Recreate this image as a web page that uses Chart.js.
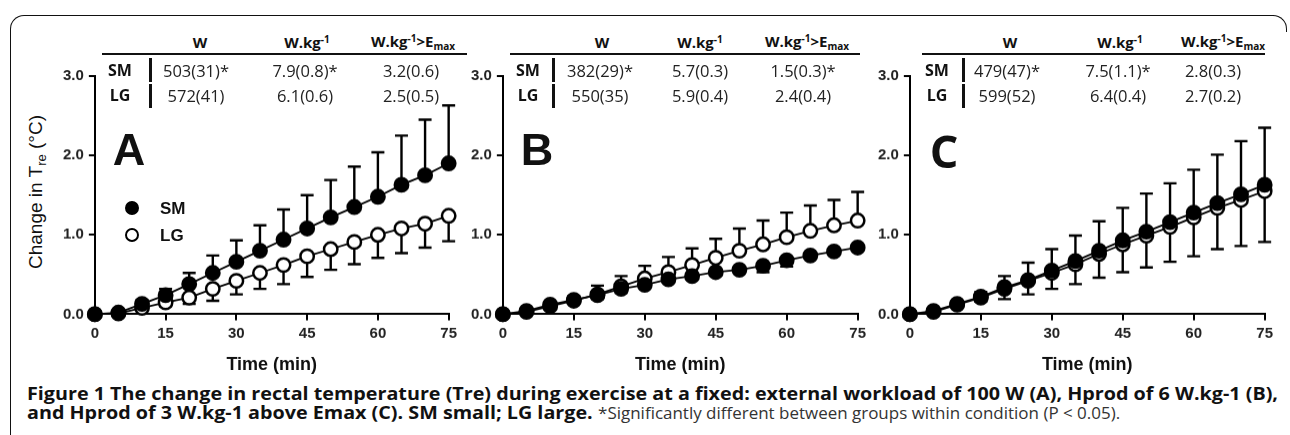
<!DOCTYPE html>
<html>
<head>
<meta charset="utf-8">
<script src="https://cdn.jsdelivr.net/npm/chart.js@4.4.1/dist/chart.umd.min.js"></script>
<style>
  body { margin: 0; width: 1290px; height: 435px; overflow: hidden; position: relative; background: #fff;
         font-family: "Liberation Sans", Arial, sans-serif; color: #111; }
  .frame { position: absolute; left: 10px; top: 15px; width: 1263px; height: 440px;
           border-left: 1.7px solid #111; border-top: 1.7px solid #111; border-top-left-radius: 14px; }
  .corner { position: absolute; left: 1273px; top: 15px; width: 13px; height: 16px;
            border-top: 1.7px solid #111; border-right: 1.7px solid #111; border-top-right-radius: 14px; }
  canvas { position: absolute; }
  .c { position: absolute; white-space: nowrap; transform: translate(-50%, -50%); }
  .hd { font-family: "Open Sans", sans-serif; font-weight: bold; font-size: 15px; }
  .hd sup { font-size: 10px; vertical-align: 5px; }
  .hd sub { font-size: 10px; vertical-align: -3px; }
  .rl { font-family: "Open Sans", sans-serif; font-weight: bold; font-size: 16px; }
  .val { font-family: "Open Sans", sans-serif; font-size: 16.5px; color: #222; }
  .line { position: absolute; background: #111; }
  .letter { font-weight: bold; font-size: 45px; }
  .leg { position: absolute; width: 10px; height: 10px; border: 2.6px solid #000; border-radius: 50%; }
  .legtx { font-weight: bold; font-size: 17px; }
  .ytitle { position: absolute; left: 37px; top: 192px; white-space: nowrap; font-size: 19px;
            transform: translate(-50%, -50%) rotate(-90deg); }
  .ytitle sub { font-size: 13px; }
  .cap { position: absolute; left: 27px; white-space: nowrap; font-family: "Open Sans", sans-serif;
         font-size: 17px; line-height: 19px; transform-origin: 0 50%; }
  .cap b { font-weight: bold; }
  .cap span.n { display: inline-block; color: #333; transform: scaleX(0.86); transform-origin: 0 50%; }
</style>
</head>
<body>
<div class="frame"></div>
<div class="corner"></div>

<canvas id="chartA"></canvas>
<canvas id="chartB"></canvas>
<canvas id="chartC"></canvas>

<div class="ytitle">Change in T<sub>re</sub> (°C)</div>

<div id="cap1" class="cap" style="top:384px"><b>Figure 1 The change in rectal temperature (Tre) during exercise at a fixed: external workload of 100 W (A), Hprod of 6 W.kg-1 (B),</b></div>
<div id="cap2" class="cap" style="top:403px"><b>and Hprod of 3 W.kg-1 above Emax (C). SM small; LG large.</b> <span class="n">*Significantly different between groups within condition (P &lt; 0.05).</span></div>

<script>
// time points (min)
const times = [0, 5, 10, 15, 20, 25, 30, 35, 40, 45, 50, 55, 60, 65, 70, 75];

// panel A: 100 W
const smA    = [0, 0.02, 0.13, 0.24, 0.38, 0.52, 0.66, 0.80, 0.94, 1.08, 1.22, 1.35, 1.48, 1.63, 1.75, 1.90];
const smA_sd = [0, 0.02, 0.05, 0.08, 0.14, 0.22, 0.27, 0.32, 0.38, 0.42, 0.47, 0.51, 0.56, 0.62, 0.70, 0.73];
const lgA    = [0, 0.01, 0.08, 0.15, 0.21, 0.32, 0.42, 0.52, 0.62, 0.73, 0.82, 0.91, 1.00, 1.08, 1.14, 1.24];
const lgA_sd = [0, 0.01, 0.03, 0.05, 0.08, 0.15, 0.17, 0.20, 0.24, 0.26, 0.26, 0.28, 0.29, 0.31, 0.30, 0.32];

// panel B: 6 W.kg-1
const smB    = [0, 0.04, 0.12, 0.18, 0.24, 0.32, 0.37, 0.44, 0.48, 0.53, 0.56, 0.61, 0.68, 0.74, 0.79, 0.84];
const smB_sd = [0, 0.01, 0.02, 0.03, 0.05, 0.05, 0.04, 0.04, 0.04, 0.04, 0.04, 0.08, 0.08, 0.04, 0.04, 0.04];
const lgB    = [0, 0.03, 0.10, 0.17, 0.25, 0.35, 0.45, 0.53, 0.62, 0.71, 0.80, 0.88, 0.97, 1.05, 1.12, 1.18];
const lgB_sd = [0, 0.02, 0.04, 0.06, 0.11, 0.13, 0.16, 0.19, 0.21, 0.24, 0.28, 0.30, 0.31, 0.32, 0.32, 0.36];

// panel C: 3 W.kg-1 above Emax
const smC    = [0, 0.04, 0.13, 0.22, 0.34, 0.43, 0.55, 0.67, 0.80, 0.93, 1.04, 1.16, 1.28, 1.40, 1.51, 1.63];
const smC_sd = [0, 0.02, 0.03, 0.06, 0.14, 0.22, 0.27, 0.32, 0.37, 0.41, 0.48, 0.49, 0.54, 0.61, 0.67, 0.72];
const lgC    = [0, 0.03, 0.12, 0.21, 0.32, 0.42, 0.52, 0.63, 0.76, 0.88, 0.99, 1.10, 1.22, 1.34, 1.44, 1.55];
const lgC_sd = [0, 0.01, 0.03, 0.05, 0.13, 0.17, 0.20, 0.25, 0.30, 0.35, 0.40, 0.44, 0.49, 0.52, 0.58, 0.64];

// axis ranges
const xMax = 75, xStep = 15;
const yMax = 3, yStep = 1;

// inset tables
const tableHead = ['W', 'W.kg<sup>-1</sup>', 'W.kg<sup>-1</sup>&gt;E<sub>max</sub>'];
const rowLabels = ['SM', 'LG'];
const tableA = [['503(31)*', '7.9(0.8)*', '3.2(0.6)'], ['572(41)', '6.1(0.6)', '2.5(0.5)']];
const tableB = [['382(29)*', '5.7(0.3)', '1.5(0.3)*'], ['550(35)', '5.9(0.4)', '2.4(0.4)']];
const tableC = [['479(47)*', '7.5(1.1)*', '2.8(0.3)'], ['599(52)', '6.4(0.4)', '2.7(0.2)']];

const errorBars = {
  id: 'errorBars',
  beforeDatasetsDraw(chart) {
    const ctx = chart.ctx, xs = chart.scales.x, ys = chart.scales.y;
    ctx.save();
    ctx.strokeStyle = '#000';
    ctx.lineWidth = 2.4;
    chart.data.datasets.forEach(ds => {
      ds.data.forEach((p, i) => {
        const sd = ds.sd[i];
        if (!sd) return;
        const px = xs.getPixelForValue(p.x);
        const y0 = ys.getPixelForValue(p.y);
        const y1 = ys.getPixelForValue(p.y + ds.dir * sd);
        ctx.beginPath();
        ctx.moveTo(px, y0); ctx.lineTo(px, y1);
        ctx.moveTo(px - 6.5, y1); ctx.lineTo(px + 6.5, y1);
        ctx.stroke();
      });
    });
    ctx.restore();
  }
};

function series(vals, sd, dir, fill, order) {
  return {
    data: times.map((t, i) => ({ x: t, y: vals[i] })),
    sd: sd, dir: dir, order: order,
    borderColor: '#000', borderWidth: 1.8,
    pointRadius: 6.7, pointBorderWidth: 2.5,
    pointBackgroundColor: fill, pointBorderColor: '#000',
    tension: 0, clip: false
  };
}

const tickFont = { family: '"Liberation Sans", Arial, sans-serif', size: 15, weight: 'bold' };

function config(datasets) {
  return {
    type: 'line',
    data: { datasets: datasets },
    plugins: [errorBars],
    options: {
      responsive: false, animation: false,
      plugins: { legend: { display: false }, tooltip: { enabled: false } },
      layout: { padding: 0 },
      scales: {
        x: {
          type: 'linear', min: 0, max: xMax,
          grid: { drawOnChartArea: false, drawTicks: true, tickLength: 6, color: '#000', lineWidth: 2 },
          border: { color: '#000', width: 2 },
          ticks: { stepSize: xStep, color: '#222', font: tickFont, padding: 4 },
          title: { display: true, text: 'Time (min)', color: '#111', padding: { top: 8 },
                   font: { family: '"Liberation Sans", Arial, sans-serif', size: 18, weight: 'bold' } }
        },
        y: {
          min: 0, max: yMax,
          grid: { drawOnChartArea: false, drawTicks: true, tickLength: 6, color: '#000', lineWidth: 2 },
          border: { color: '#000', width: 2 },
          ticks: { stepSize: yStep, color: '#222', font: tickFont, padding: 5,
                   callback: v => v.toFixed(1) }
        }
      }
    }
  };
}

// build chart, then size/move the canvas so its plot area lands at the target box
function makePanel(id, datasets, left, top, w, h) {
  const cv = document.getElementById(id);
  cv.width = w + 80; cv.height = h + 80;
  let chart = new Chart(cv, config(datasets));
  const ca = chart.chartArea;
  const nw = cv.width + (w - (ca.right - ca.left));
  const nh = cv.height + (h - (ca.bottom - ca.top));
  chart.destroy();
  cv.width = nw; cv.height = nh;
  cv.style.width = nw + 'px'; cv.style.height = nh + 'px';
  chart = new Chart(cv, config(datasets));
  const ca2 = chart.chartArea;
  cv.style.left = (left - ca2.left) + 'px';
  cv.style.top = (top - ca2.top) + 'px';
  return chart;
}

makePanel('chartA', [series(smA, smA_sd, 1, '#000', 0), series(lgA, lgA_sd, -1, '#fff', 1)], 95, 76, 354, 238);
makePanel('chartB', [series(smB, smB_sd, -1, '#000', 0), series(lgB, lgB_sd, 1, '#fff', 1)], 503, 76, 355, 238);
makePanel('chartC', [series(smC, smC_sd, 1, '#000', 0), series(lgC, lgC_sd, -1, '#fff', 1)], 910, 76, 355, 238);

function addText(cls, html, x, y, extra) {
  const d = document.createElement('div');
  d.className = 'c ' + cls;
  d.innerHTML = html;
  d.style.left = x + 'px'; d.style.top = y + 'px';
  if (extra) Object.assign(d.style, extra);
  document.body.appendChild(d);
  return d;
}
function addLine(x, y, w, h) {
  const d = document.createElement('div');
  d.className = 'line';
  Object.assign(d.style, { left: x + 'px', top: y + 'px', width: w + 'px', height: h + 'px' });
  document.body.appendChild(d);
}

function addTable(rows, lineL, lineR, labelX, barX, headX, valX) {
  tableHead.forEach((h, i) => addText('hd', h, headX[i], 42));
  addLine(lineL, 53, lineR - lineL, 2);
  addLine(barX, 58, 2.5, 24);
  addLine(barX, 84, 2.5, 24);
  rowLabels.forEach((r, j) => {
    const y = j === 0 ? 70 : 95;
    addText('rl', r, labelX, y);
    rows[j].forEach((v, i) => addText('val', v, valX[i], y));
  });
}

addTable(tableA, 102, 467, 120, 149, [200, 307, 413], [196, 305, 411]);
addTable(tableB, 510, 860, 528, 552, [602, 700, 807], [600, 700, 803]);
addTable(tableC, 922, 1265, 937, 962, [1010, 1120, 1223], [1007, 1118, 1213]);

// panel letters
addText('letter', 'A', 129, 150);
addText('letter', 'B', 537, 150);
addText('letter', 'C', 944, 150, { fontFamily: '"Open Sans", sans-serif' });

// legend in panel A
[['SM', '#000', 209], ['LG', '#fff', 236]].forEach(([name, fill, y]) => {
  const m = document.createElement('div');
  m.className = 'leg';
  Object.assign(m.style, { left: (133 - 7.6) + 'px', top: (y - 7.6) + 'px', background: fill });
  document.body.appendChild(m);
  addText('legtx', name, 160, y, { transform: 'translate(0,-50%)' });
});

// fit caption lines to the frame width
const c1 = document.getElementById('cap1');
const k = 1251 / c1.getBoundingClientRect().width;
c1.style.transform = 'scaleX(' + k + ')';
document.getElementById('cap2').style.transform = 'scaleX(' + k + ')';
</script>
</body>
</html>
